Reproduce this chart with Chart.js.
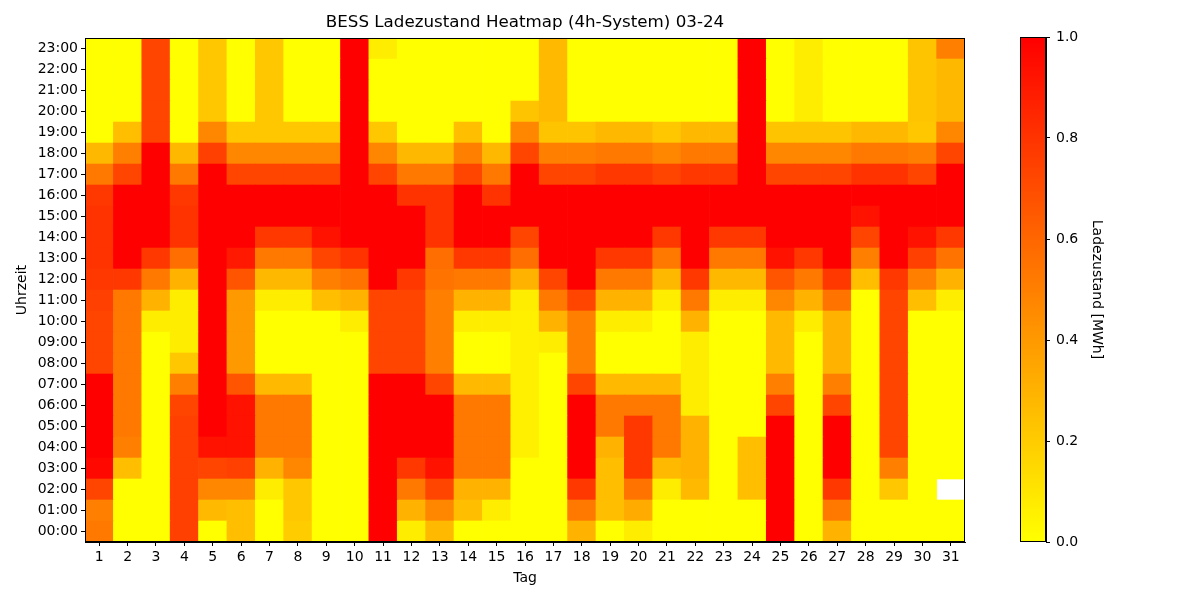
<!DOCTYPE html>
<html>
<head>
<meta charset="utf-8">
<script src="https://cdn.jsdelivr.net/npm/chart.js@4.4.1/dist/chart.umd.min.js"></script>
<style>
  html, body { margin: 0; padding: 0; background: #fff; }
  #wrap { position: relative; width: 1200px; height: 600px; }
  #heat { position: absolute; left: 0; top: 0; }
  #cbar { position: absolute; left: 1000px; top: 0; }
</style>
</head>
<body>
<div id="wrap">
  <canvas id="heat" width="1200" height="600"></canvas>
  <canvas id="cbar" width="200" height="600"></canvas>
</div>
<script>
// Tage und Stunden
const days = ['1','2','3','4','5','6','7','8','9','10','11','12','13','14','15','16',
              '17','18','19','20','21','22','23','24','25','26','27','28','29','30','31'];
const hours = ['00:00','01:00','02:00','03:00','04:00','05:00','06:00','07:00','08:00','09:00','10:00','11:00',
               '12:00','13:00','14:00','15:00','16:00','17:00','18:00','19:00','20:00','21:00','22:00','23:00'];

// Ladezustand [MWh] je Stunde, Tag 1..31
const h00 = [.53,0,0,.75,0,.25,0,.2,0,0,1,.07,.27,0,0,0,0,.3,0,.07,0,0,0,0,1,0,.3,0,0,0,0];
const h01 = [.5,0,0,.75,.27,.25,0,.22,0,0,1,.3,.47,.25,.07,0,0,.53,.25,.33,0,0,0,0,1,0,.53,0,0,0,0];
const h02 = [.73,0,0,.75,.47,.47,.07,.22,0,0,1,.53,.73,.3,.3,0,0,.78,.25,.55,.07,.27,0,.25,1,0,.78,0,.22,0,null];
const h03 = [.97,.25,0,.75,.73,.75,.3,.47,0,0,1,.78,.93,.53,.53,0,0,1,.25,.78,.27,.3,0,.25,1,0,1,0,.5,0,0];
const h04 = [1,.5,0,.75,.93,.93,.53,.53,0,0,1,1,1,.53,.53,.06,0,1,.3,.78,.53,.3,0,.25,1,0,1,0,.73,0,0];
const h05 = [1,.53,0,.75,1,.93,.53,.53,0,0,1,1,1,.53,.53,.06,0,1,.53,.78,.53,.3,0,0,1,0,1,0,.73,0,0];
const h06 = [1,.53,0,.73,1,.93,.53,.53,0,0,1,1,1,.53,.53,.06,0,1,.53,.53,.53,.07,0,0,.73,0,.73,0,.73,0,0];
const h07 = [1,.53,0,.5,1,.67,.27,.27,0,0,1,1,.73,.27,.27,.06,0,.73,.27,.27,.27,.07,0,0,.5,0,.5,0,.73,0,0];
const h08 = [.73,.53,0,.22,1,.4,0,0,0,0,.73,.73,.5,0,0,.06,0,.5,0,0,0,.07,0,0,.27,0,.3,0,.73,0,0];
const h09 = [.73,.53,0,.07,1,.4,0,0,0,0,.73,.73,.5,0,0,.06,.07,.5,0,0,0,.07,0,0,.27,0,.3,0,.73,0,0];
const h10 = [.73,.53,.07,.07,1,.4,0,0,0,.07,.73,.73,.5,.07,.07,.06,.3,.5,.07,.07,0,.3,0,0,.27,.07,.3,0,.73,0,0];
const h11 = [.75,.53,.3,.07,1,.4,.07,.07,.25,.3,.73,.73,.5,.3,.3,.07,.53,.73,.3,.3,.07,.53,.07,.07,.47,.3,.55,0,.73,.25,.07];
const h12 = [.78,.78,.53,.3,1,.67,.28,.28,.5,.55,1,.78,.55,.53,.53,.3,.73,1,.53,.53,.28,.78,.28,.28,.67,.53,.78,.25,.78,.5,.3];
const h13 = [.8,1,.78,.57,1,.9,.53,.53,.73,.8,1,1,.57,.78,.78,.57,1,1,.78,.78,.53,1,.53,.53,.93,.78,1,.5,1,.75,.55];
const h14 = [.8,1,1,.8,1,1,.78,.78,.93,1,1,1,.8,1,1,.73,1,1,1,1,.78,1,.78,.78,1,1,1,.73,1,.93,.78];
const h15 = [.8,1,1,.8,1,1,1,1,1,1,1,1,.8,1,1,1,1,1,1,1,1,1,1,1,1,1,1,.93,1,1,1];
const h16 = [.78,1,1,.78,1,1,1,1,1,1,1,.8,.8,1,.8,1,1,1,1,1,1,1,1,1,1,1,1,1,1,1,1];
const h17 = [.53,.73,1,.53,1,.73,.73,.73,.73,1,.73,.53,.53,.73,.53,1,.73,.73,.78,.78,.73,.78,.78,1,.73,.73,.73,.8,.8,.73,1];
const h18 = [.28,.5,1,.28,.75,.47,.47,.47,.47,1,.47,.28,.28,.5,.28,.73,.5,.5,.53,.53,.47,.53,.53,1,.47,.47,.47,.53,.53,.5,.73];
const h19 = [0,.25,.73,0,.47,.22,.22,.22,.22,1,.22,0,0,.25,0,.47,.23,.23,.28,.28,.22,.28,.28,1,.23,.23,.23,.28,.28,.22,.47];
const h20 = [0,0,.73,0,.22,0,.22,0,0,1,0,0,0,0,0,.23,.27,0,0,0,0,0,0,1,0,.07,0,0,0,.23,.28];
const h21 = [0,0,.73,0,.22,0,.22,0,0,1,0,0,0,0,0,0,.27,0,0,0,0,0,0,1,0,.07,0,0,0,.23,.28];
const h22 = [0,0,.73,0,.22,0,.22,0,0,1,0,0,0,0,0,0,.27,0,0,0,0,0,0,1,0,.07,0,0,0,.23,.28];
const h23 = [0,0,.73,0,.22,0,.22,0,0,1,.07,0,0,0,0,0,.27,0,0,0,0,0,0,1,0,.07,0,0,0,.23,.5];
const socRows = [h00,h01,h02,h03,h04,h05,h06,h07,h08,h09,h10,h11,h12,h13,h14,h15,h16,h17,h18,h19,h20,h21,h22,h23];

// Farbskala
const cbarRange = [0, 1];

Chart.defaults.font.family = "'DejaVu Sans', sans-serif";
Chart.defaults.font.size = 14;
Chart.defaults.color = '#000';

// autumn_r: 0 -> gelb, 1 -> rot
function socColor(v) {
  if (v === null) return 'rgba(0,0,0,0)';
  const g = Math.round(255 * (1 - v));
  return 'rgb(255,' + g + ',0)';
}

const frame = {
  id: 'frame',
  afterDraw(chart) {
    const { ctx, chartArea: a } = chart;
    ctx.save();
    ctx.strokeStyle = '#000';
    ctx.lineWidth = 1;
    ctx.strokeRect(Math.round(a.left) + 0.5, Math.round(a.top) + 0.5,
                   Math.round(a.right - a.left) - 1, Math.round(a.bottom - a.top) - 1);
    ctx.restore();
  }
};

// eine Zeile (Stunde) je Datensatz, als schwebende Balken [h, h+1]
const datasets = socRows.map((row, h) => ({
  label: hours[h],
  data: row.map(() => [h, h + 1]),
  backgroundColor: row.map(socColor),
  borderWidth: 0,
  barPercentage: 1,
  categoryPercentage: 1,
  grouped: false
}));

new Chart(document.getElementById('heat'), {
  type: 'bar',
  data: { labels: days, datasets: datasets },
  options: {
    responsive: false,
    animation: false,
    layout: { padding: { left: 0, right: 235, top: 0, bottom: 0 } },
    plugins: {
      legend: { display: false },
      tooltip: { enabled: false },
      title: {
        display: true,
        text: 'BESS Ladezustand Heatmap (4h-System) 03-24',
        fullSize: false,
        font: { size: 16.7, weight: 'normal' },
        padding: { top: 13, bottom: 5 }
      }
    },
    scales: {
      x: {
        grid: { drawOnChartArea: false, offset: false, tickLength: 4, color: '#000' },
        border: { color: '#000' },
        ticks: { autoSkip: false, maxRotation: 0, padding: 3 },
        title: { display: true, text: 'Tag', padding: { top: 0, bottom: 13 } },
        afterFit(s) { s.height = 58; }
      },
      y: {
        min: 0,
        max: 24,
        grid: { drawOnChartArea: false, tickLength: 4, color: '#000' },
        border: { color: '#000' },
        afterBuildTicks(s) { s.ticks = hours.map((h, i) => ({ value: i + 0.5 })); },
        ticks: { autoSkip: false, padding: 3, callback: (v, i) => hours[i] },
        title: { display: true, text: 'Uhrzeit', padding: { top: 14, bottom: 0 } },
        afterFit(s) { s.width = 85; }
      }
    }
  },
  plugins: [frame]
});

// Farbbalken
new Chart(document.getElementById('cbar'), {
  type: 'bar',
  data: {
    labels: ['cb'],
    datasets: [{
      data: [cbarRange],
      backgroundColor(c) {
        const a = c.chart.chartArea;
        if (!a) return '#ff0';
        const g = c.chart.ctx.createLinearGradient(0, a.bottom, 0, a.top);
        g.addColorStop(0, socColor(cbarRange[0]));
        g.addColorStop(1, socColor(cbarRange[1]));
        return g;
      },
      borderWidth: 0,
      barPercentage: 1,
      categoryPercentage: 1
    }]
  },
  options: {
    responsive: false,
    animation: false,
    layout: { padding: { left: 20, right: 94, top: 37, bottom: 58 } },
    plugins: { legend: { display: false }, tooltip: { enabled: false } },
    scales: {
      x: { display: false },
      y: {
        position: 'right',
        min: cbarRange[0],
        max: cbarRange[1],
        grid: { drawOnChartArea: false, tickLength: 4, color: '#000' },
        border: { color: '#000' },
        ticks: { stepSize: 0.2, padding: 6, callback: v => v.toFixed(1) },
        title: { display: true, text: 'Ladezustand [MWh]', padding: { top: 1, bottom: 0 } },
        afterFit(s) { s.width = 60; }
      }
    }
  },
  plugins: [frame]
});
</script>
</body>
</html>
